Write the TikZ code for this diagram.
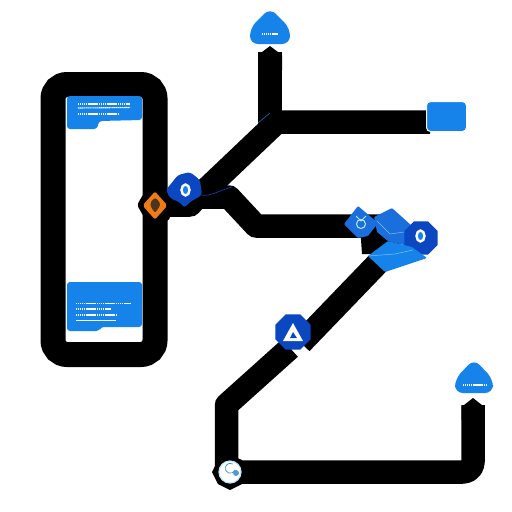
\documentclass[tikz,border=0pt]{standalone}
\usetikzlibrary{shapes.geometric}
\definecolor{bluemain}{HTML}{1583EA}
\definecolor{bluemid}{HTML}{1A6FDC}
\definecolor{bluedark}{HTML}{0B47C0}
\definecolor{orangeD}{HTML}{F07A14}
\definecolor{brownD}{HTML}{4A3520}
\definecolor{cyanD}{HTML}{BDE9FA}
\tikzset{
  wire/.style={line width=23.5pt,black,line join=round},
  panel/.style={fill=bluemain,draw=none,rounded corners=3pt},
  housebox/.style={fill=bluemain,draw=none,rounded corners=8pt},
  glyphline/.style={white,line width=1.1pt,dash pattern=on 1.4pt off .5pt},
  octa/.style={regular polygon,regular polygon sides=8,fill=bluedark,minimum size=#1,inner sep=0pt},
  ringicon/.style={ellipse,draw=white,line width=2.4pt,fill=bluemain,minimum width=8pt,minimum height=11pt,inner sep=0pt},
}
\begin{document}
\begin{tikzpicture}[x=1pt,y=-1pt]
\useasboundingbox (0,0) rectangle (512,512);
\fill[white] (0,0) rectangle (512,512);
% named points
\coordinate (hub) at (158,205);
\coordinate (capA) at (270,52);
\coordinate (forkA) at (277,122);
\coordinate (boxin) at (430,122);
\coordinate (start) at (230,472);
\coordinate (capB) at (473,405);
\coordinate (clusterin) at (385,226);
\coordinate (clusterout) at (378,263);
\coordinate (anodein) at (301,343);
\coordinate (anodeout) at (290,348);
% frame
\node[draw=black,line width=25pt,rounded corners=14pt,minimum width=102pt,minimum height=270pt,inner sep=0pt] (frame) at (104,219.5) {};
% wires
\draw[wire] (197,198) -- (forkA) -- (boxin);
\draw[wire,line cap=butt] (270,125) -- (capA);
\fill[black] (258,55) -- (270,46) -- (282,55) -- (282,70) -- (258,70) -- cycle;
\draw[wire] (hub) -- (190,205) -- (197,197) -- (229,197) -- (256,226) -- (clusterin);
\fill[black] (360,226) -- (400,226) -- (400,254) -- (362,254) -- cycle;
\draw[wire] (clusterout) -- (anodein);
\draw[wire] (anodeout) -- (226.5,405) -- (226.5,472);
\draw[wire,rounded corners=10pt] (start) -- (473,472) -- (capB);
\fill[black] (461.5,407) -- (473,398) -- (484.5,407) -- (484.5,420) -- (461.5,420) -- cycle;
\draw[bluedark,line width=.6pt] (201,195) .. controls (210,197) and (220,190) .. (232,187);
\draw[bluemain,line width=.5pt] (258,123) -- (270,113);
% top-left panel
\fill[panel] (67,96) -- (142,96) -- (142,120) -- (99,121) -- (97,129) -- (67,129) -- cycle;
\node[inner sep=0pt,minimum size=0pt] (panelA) at (104,108) {};
\draw[glyphline] (78,104) -- (130,104);
\draw[glyphline] (78,108) -- (130,107.5);
\draw[glyphline] (78,114) -- (119,114);
% bottom-left panel
\fill[panel] (67,282) -- (142,282) -- (142,327) -- (101,327) -- (99,331) -- (67,331) -- cycle;
\node[inner sep=0pt,minimum size=0pt] (panelB) at (104,306) {};
\draw[glyphline] (76,303.5) -- (131,303.5);
\draw[glyphline] (76,309) -- (111,309);
\draw[glyphline] (76,315) -- (116,315);
\draw[white,line width=.7pt] (76,320) -- (116,320);
% hub
\fill[black,rounded corners=3pt] (137,205) -- (144,193) -- (154,186) -- (170,190) -- (170,220) -- (154,224) -- (144,217) -- cycle;
\fill[orangeD,rounded corners=2pt] (155,191.5) -- (167.5,205.5) -- (155,219.5) -- (142.5,205.5) -- cycle;
\fill[brownD,rounded corners=3pt] (155,197) -- (161,204) -- (155,213.5) -- (149.5,204) -- cycle;
\node[inner sep=0pt,minimum size=0pt] (hubnode) at (155,205) {};
% pin node
\fill[bluedark,rounded corners=3pt] (166,190) -- (178,175) -- (190,172) -- (200,180) -- (202,195) -- (190,202) -- (184,208) -- (181,203) -- (170,198) -- cycle;
\node[ringicon] (pin) at (185.5,190) {};
% house top
\fill[housebox] (250,44) -- (250,28) -- (270,8) -- (290,28) -- (290,44) -- cycle;
\draw[glyphline] (262,34) -- (278,34);
% box top right
\node[fill=bluemain,draw=white,line width=1pt,rounded corners=4pt,minimum width=40pt,minimum height=30pt,inner sep=0pt] (boxR) at (446.5,116.5) {};
% cluster
\fill[bluemid,rounded corners=1pt] (374,217) -- (392,208) -- (412,226) -- (412,247) -- (388,241) -- (377,232) -- cycle;
\draw[cyanD!60!bluemain,line width=.5pt] (377,221) -- (390,234) -- (404,232);
\fill[bluemid,rounded corners=1pt] (344,224) -- (358,206) -- (378,223) -- (368,236) -- (358,238) -- cycle;
\node[circle,draw=cyanD,line width=1pt,inner sep=0pt,minimum size=9pt] (fishicon) at (361,224) {};
\draw[cyanD,line width=1pt] (356,216) -- (361,221) -- (366,216);
\node[octa=36pt] (octR) at (421,238) {};
\fill[bluemain,rounded corners=1pt] (368,256) -- (388,241) -- (412,247) -- (427,258) -- (385,272) -- cycle;
\draw[cyanD!60!bluemain,line width=.5pt] (368,256) -- (395,254) -- (413,250);
\node[ringicon,fill=bluemain] (ringR) at (420.5,236) {};
% A node
\node[octa=38pt] (anode) at (293,332) {};
\fill[white] (293,323) -- (303,341) -- (283,341) -- cycle;
\fill[bluedark] (293,332) -- (297,338) -- (290,338) -- cycle;
% start
\fill[black] (212,472) -- (218,460) -- (230,455) -- (242,460) -- (248,472) -- (242,484) -- (230,490) -- (218,484) -- cycle;
\node[circle,fill=white,draw=cyanD,line width=1.2pt,minimum size=22pt,inner sep=0pt] (startnode) at (start) {};
\draw[cyan!70!black,line width=.7pt] (235,470) arc (20:300:5);
\fill[cyan!60!blue!70] (236,473) circle (3pt);
% house bottom right
\fill[housebox] (455,393) -- (455,379) -- (474,359) -- (493,379) -- (493,393) -- cycle;
\draw[glyphline,line width=1.8pt] (463,385) -- (486,385);
\end{tikzpicture}
\end{document}
